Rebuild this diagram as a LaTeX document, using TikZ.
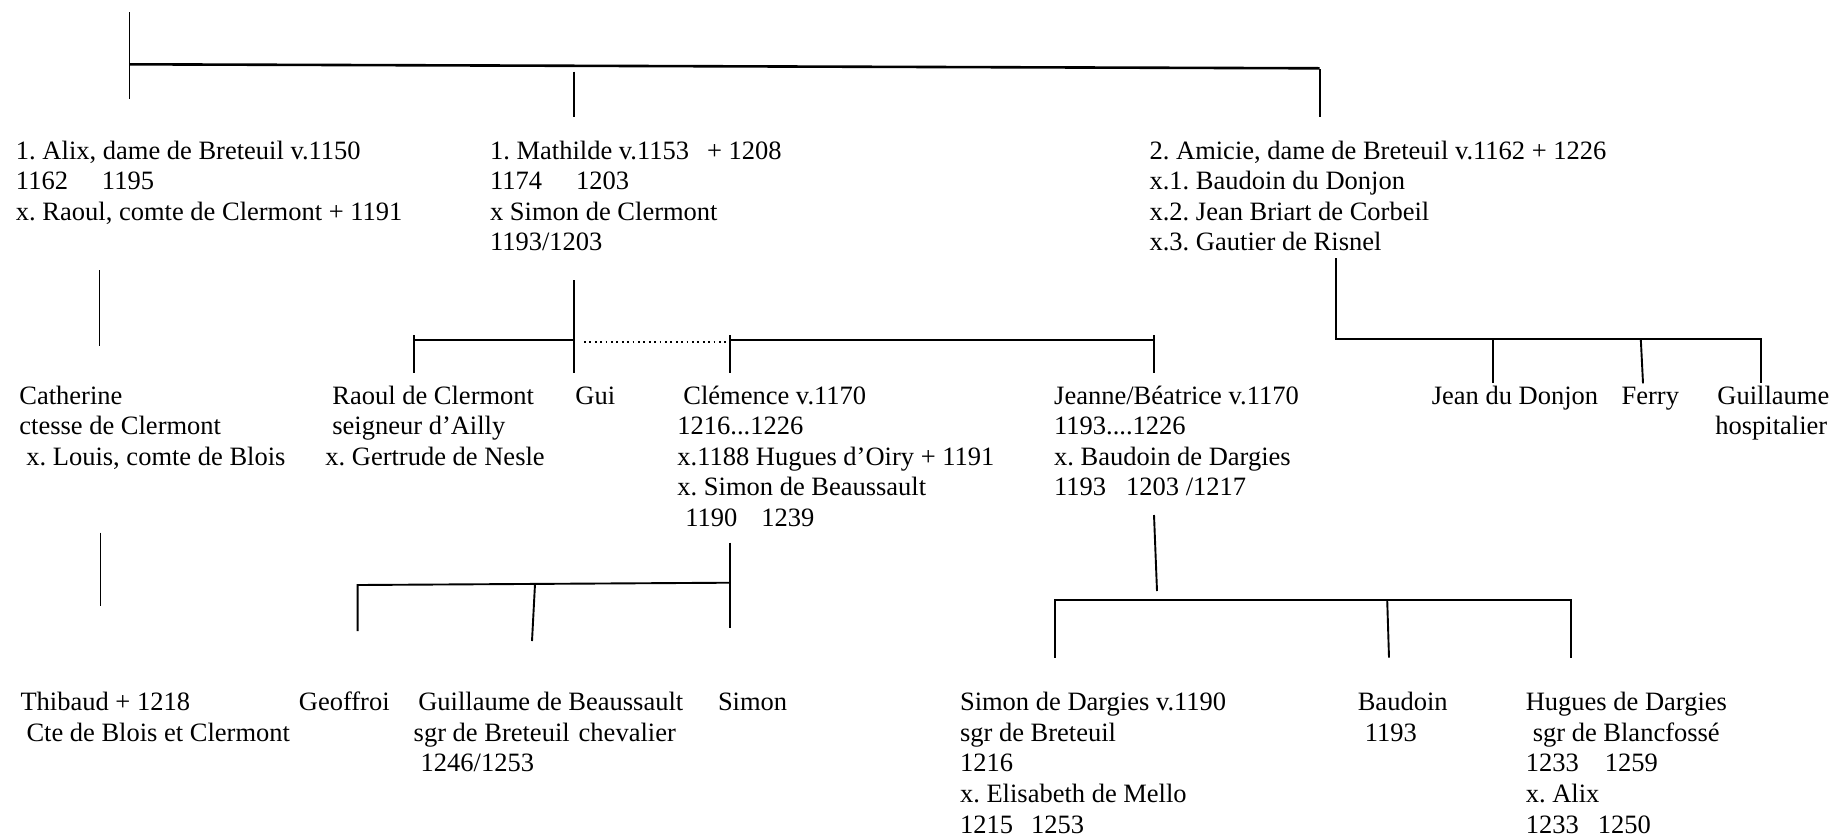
\documentclass[tikz,border=0pt]{standalone}
\usepackage{fontspec}
\setmainfont{Liberation Serif}
\frenchspacing
\newcommand{\ftab}[1]{\begin{tabular}[t]{@{}l@{}}#1\end{tabular}}
\begin{document}
\frenchspacing
\begin{tikzpicture}[x=0.5pt,y=-0.5pt,
  lbl/.style={anchor=base west, inner sep=0pt, font=\fontsize{13.25}{15.3}\selectfont\frenchspacing},
  tree/.style={line width=0.95pt},
  bar/.style={line width=1.3pt},
  dotline/.style={line width=0.9pt, dash pattern=on 0.9pt off 1.8pt}]
\useasboundingbox (0,0) rectangle (1834,836);

% ---------- texts ----------
\node[lbl] (alix) at (15.6,159) {\ftab{1. Alix, dame de Breteuil v.1150\\1162\hspace{17pt}1195\\x. Raoul, comte de Clermont + 1191}};
\node[lbl] (mathilde) at (489.7,159) {\ftab{1. Mathilde v.1153\hspace{9pt}+ 1208\\1174\hspace{17pt}1203\\x Simon de Clermont\\1193/1203}};
\node[lbl] (amicie) at (1149.2,159) {\ftab{2. Amicie, dame de Breteuil v.1162 + 1226\\x.1. Baudoin du Donjon\\x.2. Jean Briart de Corbeil\\x.3. Gautier de Risnel}};

\node[lbl] (catherine) at (19,404) {\ftab{Catherine\\ctesse de Clermont\\\hspace{3.5pt}x. Louis, comte de Blois}};
\node[lbl] (raoul) at (325,404) {\ftab{\hspace{3.5pt}Raoul de Clermont\\\hspace{3.5pt}seigneur d’Ailly\\x. Gertrude de Nesle}};
\node[lbl] (gui) at (575,404) {Gui};
\node[lbl] (clemence) at (677,404) {\ftab{\hspace{3pt}Clémence v.1170\\1216...1226\\x.1188 Hugues d’Oiry + 1191\\x. Simon de Beaussault\\\hspace{4pt}1190\hspace{12pt}1239}};
\node[lbl] (jeanne) at (1053.8,404) {\ftab{Jeanne/Béatrice v.1170\\1193....1226\\x. Baudoin de Dargies\\1193\hspace{10pt}1203 /1217}};
\node[lbl] (jean) at (1431.4,404) {Jean du Donjon};
\node[lbl] (ferry) at (1621.2,404) {Ferry};
\node[lbl] (guillh) at (1715,404) {\ftab{\hspace{1pt}Guillaume\\hospitalier}};

\node[lbl] (thibaud) at (20.1,710.7) {\ftab{Thibaud + 1218\\\hspace{3pt}Cte de Blois et Clermont}};
\node[lbl] (geoffroi) at (298.5,710.7) {Geoffroi};
\node[lbl] (guillb) at (413.3,710.7) {\ftab{\hspace{2.3pt}Guillaume de Beaussault\\sgr de Breteuil\hspace{4.5pt}chevalier\\\hspace{3.5pt}1246/1253}};
\node[lbl] (simon) at (717.6,710.7) {Simon};
\node[lbl] (simond) at (959.6,710.7) {\ftab{Simon de Dargies v.1190\\sgr de Breteuil\\1216\\x. Elisabeth de Mello\\1215\hspace{9pt}1253}};
\node[lbl] (baudoin) at (1357.4,710.7) {\ftab{Baudoin\\\hspace{3.5pt}1193}};
\node[lbl] (hugues) at (1525.4,710.7) {\ftab{Hugues de Dargies\\\hspace{3.5pt}sgr de Blancfossé\\1233\hspace{13pt}1259\\x. Alix\\1233\hspace{9.5pt}1250}};

% ---------- top level ----------
\coordinate (p0) at (129.5,12);
\coordinate (p1) at (129.5,99);
\coordinate (pl) at (129.5,64.3);
\coordinate (pr) at (1319.6,68.3);
\coordinate (mt0) at (573.7,71.7);
\coordinate (mt1) at (573.7,117.3);
\coordinate (at0) at (1319.6,69);
\coordinate (at1) at (1319.6,117.3);
\draw[tree] (p0) -- (p1);
\draw[bar] (pl) -- (pr);
\draw[tree] (mt0) -- (mt1);
\draw[tree] (at0) -- (at1);

% ---------- second level ----------
\coordinate (al0) at (99.5,270);
\coordinate (al1) at (99.5,346);
\draw[tree] (al0) -- (al1);

\coordinate (md0) at (574,280);
\coordinate (md1) at (574,372.7);
\coordinate (mh) at (574,340);
\coordinate (rh) at (414,340);
\coordinate (rt0) at (414,335);
\coordinate (rt1) at (414,372.7);
\draw[tree] (md0) -- (md1);
\draw[tree] (rh) -- (mh);
\draw[tree] (rt0) -- (rt1);
\coordinate (d0) at (584,341.7);
\coordinate (d1) at (728,341.7);
\draw[dotline] (d0) -- (d1);
\coordinate (ch) at (730.2,340);
\coordinate (jh) at (1154,340);
\coordinate (ct0) at (730.2,335);
\coordinate (ct1) at (730.2,372.7);
\coordinate (jt0) at (1154,335);
\coordinate (jt1) at (1154,372.7);
\draw[tree] (ch) -- (jh);
\draw[tree] (ct0) -- (ct1);
\draw[tree] (jt0) -- (jt1);

\coordinate (ad0) at (1336.4,258.3);
\coordinate (ad1) at (1336.4,339.3);
\coordinate (ah1) at (1760.8,339.3);
\coordinate (jd0) at (1493.4,339.3);
\coordinate (jd1) at (1493.4,383.3);
\coordinate (fe0) at (1640.8,339.3);
\coordinate (fe1) at (1643,383.3);
\coordinate (gh1) at (1760.8,383.3);
\draw[tree] (ad0) -- (ad1) -- (ah1) -- (gh1);
\draw[tree] (jd0) -- (jd1);
\draw[tree] (fe0) -- (fe1);

% ---------- third level ----------
\coordinate (cd0) at (100.5,532.7);
\coordinate (cd1) at (100.5,606);
\draw[tree] (cd0) -- (cd1);

\coordinate (cl0) at (730.2,542.7);
\coordinate (cl1) at (730.2,628.3);
\coordinate (clh) at (730.2,582.7);
\coordinate (gfh) at (357.6,585);
\coordinate (gf1) at (357.6,631);
\coordinate (gbh) at (535,584);
\coordinate (gb1) at (532,641);
\draw[tree] (cl0) -- (cl1);
\draw[tree] (gf1) -- (gfh) -- (clh);
\draw[tree] (gbh) -- (gb1);

\coordinate (je0) at (1154,515);
\coordinate (je1) at (1157,591);
\coordinate (sdh) at (1054.9,600);
\coordinate (sd1) at (1054.9,657.7);
\coordinate (hgh) at (1571.2,600);
\coordinate (hg1) at (1571.2,657.7);
\coordinate (bdh) at (1387.2,600);
\coordinate (bd1) at (1389,657.7);
\draw[tree] (je0) -- (je1);
\draw[tree] (sd1) -- (sdh) -- (hgh) -- (hg1);
\draw[tree] (bdh) -- (bd1);
\end{tikzpicture}
\end{document}
